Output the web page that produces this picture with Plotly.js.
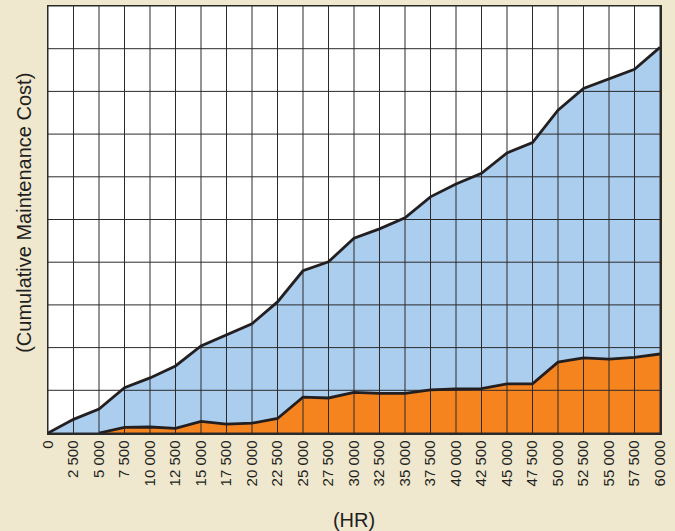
<!DOCTYPE html>
<html>
<head>
<meta charset="utf-8">
<script src="https://cdn.plot.ly/plotly-3.0.1.min.js"></script>
<style>html,body{margin:0;padding:0;background:#efe8cf;}</style>
</head>
<body>
<div id="chart" style="width:675px;height:531px;"></div>
<script>
// Hours (x categories)
const hours = [0, 2500, 5000, 7500, 10000, 12500, 15000, 17500, 20000, 22500, 25000, 27500,
  30000, 32500, 35000, 37500, 40000, 42500, 45000, 47500, 50000, 52500, 55000, 57500, 60000];
const tickLabels = ["0", "2 500", "5 000", "7 500", "10 000", "12 500", "15 000", "17 500",
  "20 000", "22 500", "25 000", "27 500", "30 000", "32 500", "35 000", "37 500", "40 000",
  "42 500", "45 000", "47 500", "50 000", "52 500", "55 000", "57 500", "60 000"];
// Upper series (total cumulative maintenance cost, grid units)
const totalCost = [0, 0.32, 0.56, 1.06, 1.29, 1.57, 2.04, 2.30, 2.56, 3.07, 3.80, 4.01,
  4.56, 4.78, 5.04, 5.53, 5.83, 6.08, 6.56, 6.80, 7.56, 8.07, 8.30, 8.52, 9.03];
// Lower series (starts at 5 000 HR)
const lowerHours = [5000, 7500, 10000, 12500, 15000, 17500, 20000, 22500, 25000, 27500,
  30000, 32500, 35000, 37500, 40000, 42500, 45000, 47500, 50000, 52500, 55000, 57500, 60000];
const lowerCost = [0, 0.13, 0.14, 0.11, 0.27, 0.21, 0.23, 0.34, 0.84, 0.82,
  0.95, 0.93, 0.93, 1.01, 1.03, 1.04, 1.15, 1.15, 1.66, 1.76, 1.73, 1.77, 1.85];
// Horizontal grid levels
const yLevels = [0, 1, 2, 3, 4, 5, 6, 7, 8, 9, 10];

const gridColor = '#2a2a2a';
const lineColor = '#231f20';

// Grid drawn as a trace so it sits above the filled areas
const gx = [], gy = [];
hours.forEach(h => { gx.push(h, h, null); gy.push(yLevels[0], yLevels[yLevels.length - 1], null); });
yLevels.forEach(v => { gx.push(hours[0], hours[hours.length - 1], null); gy.push(v, v, null); });

const traces = [
  { x: hours, y: totalCost, type: 'scatter', mode: 'lines', fill: 'tozeroy',
    fillcolor: '#abcdee', line: { width: 0, color: '#abcdee' }, hoverinfo: 'skip' },
  { x: lowerHours, y: lowerCost, type: 'scatter', mode: 'lines', fill: 'tozeroy',
    fillcolor: '#f5841f', line: { width: 0, color: '#f5841f' }, hoverinfo: 'skip' },
  { x: gx, y: gy, type: 'scatter', mode: 'lines', line: { width: 1, color: gridColor },
    hoverinfo: 'skip', cliponaxis: false },
  { x: hours, y: totalCost, type: 'scatter', mode: 'lines',
    line: { width: 2.8, color: lineColor }, hoverinfo: 'skip' },
  { x: lowerHours, y: lowerCost, type: 'scatter', mode: 'lines',
    line: { width: 2.8, color: lineColor }, hoverinfo: 'skip' }
];

const layout = {
  width: 675, height: 531,
  paper_bgcolor: '#efe8cf', plot_bgcolor: '#ffffff',
  margin: { l: 48, r: 15, t: 6, b: 98 },
  showlegend: false,
  font: { family: 'Liberation Sans, Arial, sans-serif', color: '#231f20' },
  xaxis: {
    range: [0, 60000], tickmode: 'array', tickvals: hours, ticktext: tickLabels,
    tickangle: -90, tickfont: { size: 15, color: '#231f20' }, ticks: '',
    showgrid: false, zeroline: false, showline: true, mirror: true,
    linecolor: gridColor, linewidth: 1.5,
    title: { text: '(HR)', font: { size: 20, color: '#231f20' }, standoff: 37 }
  },
  yaxis: {
    range: [0, 10], showticklabels: false, ticks: '', showgrid: false, zeroline: false,
    showline: true, mirror: true, linecolor: gridColor, linewidth: 1.5
  },
  annotations: [{
    text: '(Cumulative Maintenance Cost)', textangle: -90, showarrow: false,
    xref: 'paper', yref: 'paper', x: -0.039, y: 0.516, xanchor: 'center', yanchor: 'middle',
    font: { size: 20, color: '#231f20' }
  }]
};

Plotly.newPlot('chart', traces, layout, { displayModeBar: false, staticPlot: true });
</script>
</body>
</html>
